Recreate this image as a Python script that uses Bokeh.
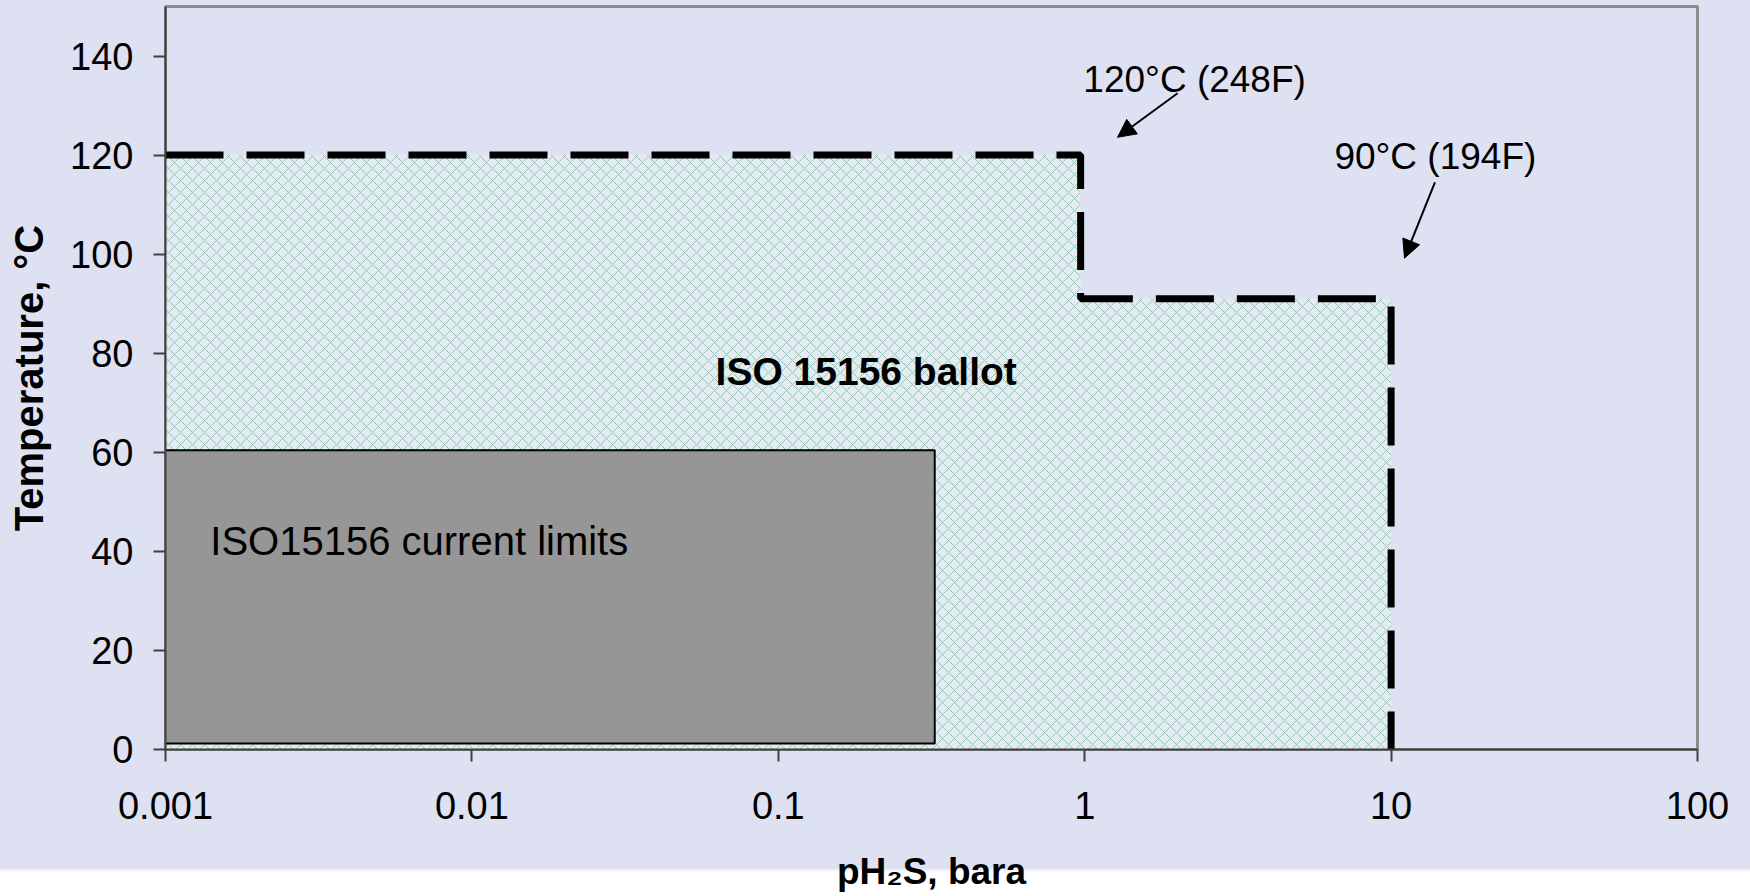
from bokeh.plotting import figure
from bokeh.models import (Range1d, FixedTicker, Arrow, NormalHead, ColumnDataSource)
from bokeh.core.properties import value
from bokeh.embed import file_html
from bokeh.resources import INLINE

# ---------------- data ----------------
x_ticks = [0.001, 0.01, 0.1, 1, 10, 100]
x_tick_labels = ["0.001", "0.01", "0.1", "1", "10", "100"]
y_ticks = [0, 20, 40, 60, 80, 100, 120, 140]
y_tick_labels = ["0", "20", "40", "60", "80", "100", "120", "140"]

# ISO 15156 ballot region (pH2S bara, temperature °C)
ballot_p = [0.001, 0.001, 0.97, 0.97, 10, 10]
ballot_t = [0, 120, 120, 91, 91, 0]
# dashed limit line
limit_p = [0.001, 0.97, 0.97, 10, 10]
limit_t = [120, 120, 91, 91, 0]
# ISO15156 current limits box
current_p = [0.00097, 0.324]
current_t = [1.2, 60.4]

# annotations
note_text = ["120°C (248F)", "90°C (194F)"]
note_p = [0.99, 6.53]
note_t = [135.2, 119.7]
arrow_p_start = [2.01, 13.9]
arrow_t_start = [132.5, 114.5]
arrow_p_end = [1.28, 11.06]
arrow_t_end = [123.6, 99.2]

region_text = ["ISO 15156 ballot", "ISO15156 current limits"]
region_p = [0.0624, 0.0014]
region_t = [76.4, 42.1]
region_style = ["bold", "normal"]
region_size = ["39px", "40px"]

# ---------------- figure ----------------
BG = "#DEE1F2"
FONT = "Liberation Sans"

p = figure(x_axis_type="log", x_range=Range1d(0.001, 100), y_range=Range1d(0, 150),
           frame_width=1532, frame_height=743,
           min_border_left=165, min_border_right=53, min_border_top=6, min_border_bottom=143,
           output_backend="svg", toolbar_location=None,
           background_fill_color=BG, border_fill_color=None)
p.styles = {"background": "linear-gradient(to bottom, #DEE1F2 0px, #DEE1F2 868px, #FFFFFF 872px)"}
p.grid.visible = False
p.outline_line_color = "#8c8c8c"
p.outline_line_width = 3

# hatched ballot region
p.patch(ballot_p, ballot_t, fill_color="#E7EAF4", line_color=None,
        hatch_pattern="diagonal_cross", hatch_color="#8FCAB1",
        hatch_scale=12, hatch_weight=1)

# grey current limits box
p.quad(left=[current_p[0]], right=[current_p[1]], bottom=[current_t[0]], top=[current_t[1]],
       fill_color="#969696", line_color="black", line_width=2)

# dashed limit
p.line(limit_p, limit_t, line_width=7, line_dash="58 23", color="black")

# region texts
src_r = ColumnDataSource(dict(x=region_p, y=region_t, text=region_text,
                              style=region_style, size=region_size))
p.text(x="x", y="y", text="text", source=src_r, text_font=value(FONT),
       text_font_size="size", text_font_style="style", text_baseline="alphabetic",
       text_color="black")

# notes and arrows
src_n = ColumnDataSource(dict(x=note_p, y=note_t, text=note_text))
p.text(x="x", y="y", text="text", source=src_n, text_font=value(FONT),
       text_font_size="37px", text_baseline="alphabetic", text_color="black")
src_a = ColumnDataSource(dict(x0=arrow_p_start, y0=arrow_t_start,
                              x1=arrow_p_end, y1=arrow_t_end))
p.add_layout(Arrow(source=src_a, x_start="x0", y_start="y0", x_end="x1", y_end="y1",
                   line_width=2, line_color="black",
                   end=NormalHead(size=18, fill_color="black", line_color="black")))

# ---------------- axes ----------------
p.xaxis.ticker = FixedTicker(ticks=x_ticks)
p.xaxis.major_label_overrides = dict(zip(x_ticks, x_tick_labels))
p.yaxis.ticker = FixedTicker(ticks=y_ticks)
p.yaxis.major_label_overrides = dict(zip(y_ticks, y_tick_labels))

for ax in (p.xaxis, p.yaxis):
    ax.major_label_text_font = FONT
    ax.major_label_text_font_size = "38px"
    ax.major_label_text_color = "black"
    ax.axis_line_color = "#404040"
    ax.axis_line_width = 2
    ax.major_tick_line_color = "#404040"
    ax.major_tick_line_width = 2
    ax.major_tick_in = 0
    ax.major_tick_out = 12
    ax.minor_tick_line_color = None
    ax.axis_label_text_font = FONT
    ax.axis_label_text_font_style = "bold"
    ax.axis_label_text_color = "black"

p.xaxis.axis_label = "pH₂S, bara"
p.xaxis.axis_label_text_font_size = "37px"
p.xaxis.major_label_standoff = 30
p.xaxis.axis_label_standoff = 29
p.yaxis.axis_label = "Temperature, °C"
p.yaxis.axis_label_text_font_size = "40px"
p.yaxis.major_label_standoff = 20
p.yaxis.axis_label_standoff = 16

open("out.html", "w").write(file_html(p, INLINE))
